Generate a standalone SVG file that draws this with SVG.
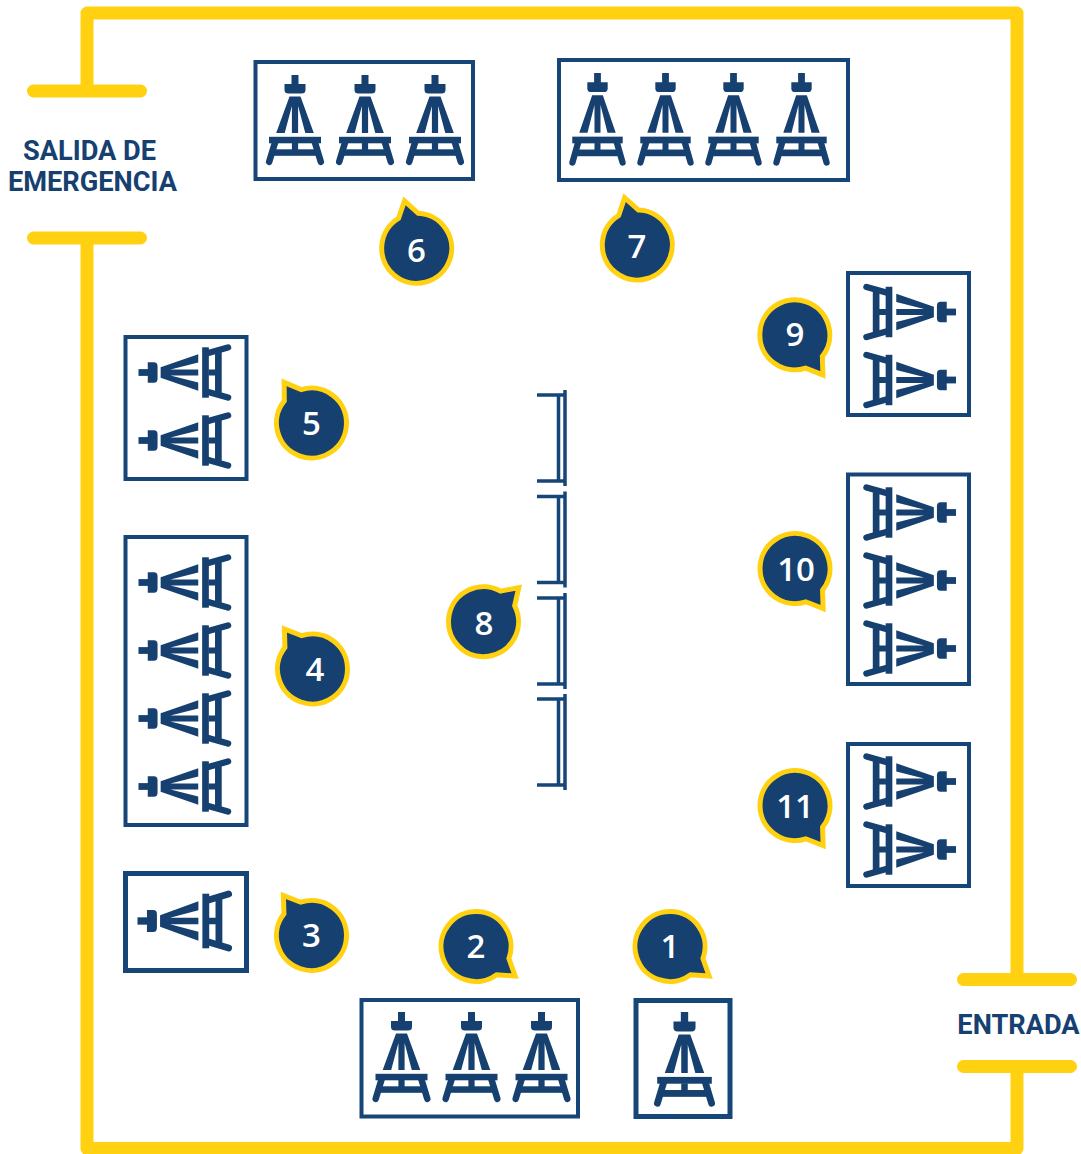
<svg xmlns="http://www.w3.org/2000/svg" width="1081" height="1154" viewBox="0 0 1081 1154">
<style>
.wall{fill:none;stroke:#FFD110;stroke-width:13;stroke-linecap:butt;stroke-linejoin:round}
.bar{fill:none;stroke:#FFD110;stroke-width:13;stroke-linecap:round}
.box{fill:#fff;stroke:#164578;stroke-width:4}
.lbl{font-family:"Roboto","Liberation Sans",sans-serif;font-weight:700;font-size:27.200px;fill:#164070;text-anchor:middle}
.num{font-family:"Open Sans","Liberation Sans",sans-serif;font-weight:600;font-size:33px;fill:#fff;text-anchor:middle}
.part{fill:none;stroke:#164578;stroke-width:3.500}
</style>
<defs>
<g id="easel">
<rect x="-3.500" y="0" width="7" height="10" fill="#164070"/>
<path d="M-10.500 9H10.500V15Q10.500 18.500 6.500 18.500H-6.500Q-10.500 18.500 -10.500 15Z" fill="#164070"/>
<path d="M-5.500 21.500H5.500L18.800 58H10.300L3.100 31V58H-3.100V31L-10.300 58H-18.800Z" fill="#164070"/>
<rect x="-26" y="61.800" width="52" height="6.500" fill="#164070"/>
<rect x="-3.100" y="68" width="6.200" height="7" fill="#164070"/>
<rect x="-21" y="74.300" width="42" height="6.500" fill="#164070"/>
<path d="M-19.500 66L-25.800 86.800M19.500 66L25.800 86.800" fill="none" stroke="#164070" stroke-width="6.500" stroke-linecap="round"/>
</g>
<path id="bubble" d="M-10.200 -33.500L0 -49L10.200 -33.500A35 35 0 1 1 -10.200 -33.500Z" fill="#164070" stroke="#FFD110" stroke-width="5" stroke-miterlimit="10"/>
<g id="partition">
<path class="part" d="M537 395H565M537 481H565M558.500 395V481M565 390V486"/>
</g>
</defs>

<g id="walls">
<path class="wall" d="M87 91V13H1017V979"/>
<path class="wall" d="M87 238V1148.500H1017V1066"/>
<path class="bar" d="M33.500 91H140.500M33.500 238H140.500M963.500 979.500H1070.500M963.500 1066.500H1070.500"/>
</g>
<g id="salida-de-emergencia"><text class="lbl" x="89.500" y="160">SALIDA DE</text><text class="lbl" x="92.500" y="191">EMERGENCIA</text></g>
<g id="entrada"><text class="lbl" x="1018.500" y="1034">ENTRADA</text></g>

<g id="group-6"><rect class="box" x="255.500" y="62" width="217.500" height="117"/>
<use href="#easel" transform="translate(295 75)"/><use href="#easel" transform="translate(365 75)"/><use href="#easel" transform="translate(435 75)"/></g>
<g id="group-7"><rect class="box" x="559" y="60" width="289" height="120"/>
<use href="#easel" transform="translate(597.500 73) scale(.97 1.03)"/><use href="#easel" transform="translate(665.500 73) scale(.97 1.03)"/><use href="#easel" transform="translate(733.500 73) scale(.97 1.03)"/><use href="#easel" transform="translate(801.500 73) scale(.97 1.03)"/></g>
<g id="group-9"><rect class="box" x="848" y="273" width="121" height="142"/>
<use href="#easel" transform="translate(956 312) rotate(90) scale(.97 1.03)"/><use href="#easel" transform="translate(956 380) rotate(90) scale(.97 1.03)"/></g>
<g id="group-10"><rect class="box" x="848" y="474.500" width="121" height="209.500"/>
<use href="#easel" transform="translate(956 512.500) rotate(90) scale(.97 1.03)"/><use href="#easel" transform="translate(956 580.500) rotate(90) scale(.97 1.03)"/><use href="#easel" transform="translate(956 648.500) rotate(90) scale(.97 1.03)"/></g>
<g id="group-11"><rect class="box" x="848" y="744" width="121" height="142"/>
<use href="#easel" transform="translate(956 781.500) rotate(90) scale(.97 1.03)"/><use href="#easel" transform="translate(956 849.500) rotate(90) scale(.97 1.03)"/></g>
<g id="group-5"><rect class="box" x="125.500" y="337" width="121" height="142"/>
<use href="#easel" transform="translate(138.500 372.500) rotate(-90) scale(.97 1.03)"/><use href="#easel" transform="translate(138.500 440.500) rotate(-90) scale(.97 1.03)"/></g>
<g id="group-4"><rect class="box" x="125.500" y="537" width="121" height="288"/>
<use href="#easel" transform="translate(138.500 582.500) rotate(-90) scale(.97 1.03)"/><use href="#easel" transform="translate(138.500 650.500) rotate(-90) scale(.97 1.03)"/><use href="#easel" transform="translate(138.500 718.500) rotate(-90) scale(.97 1.03)"/><use href="#easel" transform="translate(138.500 786.500) rotate(-90) scale(.97 1.03)"/></g>
<g id="group-3"><rect class="box" x="125.500" y="873.500" width="121" height="97" style="stroke-width:5"/>
<use href="#easel" transform="translate(137.500 921) rotate(-90) scale(1.05)"/></g>
<g id="group-2"><rect class="box" x="361.500" y="1000" width="216.500" height="116.500"/>
<use href="#easel" transform="translate(401.500 1012)"/><use href="#easel" transform="translate(471.500 1012)"/><use href="#easel" transform="translate(541.500 1012)"/></g>
<g id="group-1"><rect class="box" x="636" y="1000.500" width="94" height="116" style="stroke-width:5"/>
<use href="#easel" transform="translate(684.500 1012) scale(1.05)"/></g>

<g id="partitions-8">
<use href="#partition"/><use href="#partition" y="101.500"/><use href="#partition" y="203"/><use href="#partition" y="304"/>
</g>

<g id="marker-1"><use href="#bubble" transform="translate(670 946.500) rotate(127)"/><text class="num" x="670" y="958">1</text></g>
<g id="marker-2"><use href="#bubble" transform="translate(476 946.500) rotate(127)"/><text class="num" x="476" y="958">2</text></g>
<g id="marker-3"><use href="#bubble" transform="translate(311.500 935.500) rotate(-35)"/><text class="num" x="311.500" y="947">3</text></g>
<g id="marker-4"><use href="#bubble" transform="translate(312.500 669) rotate(-35)"/><text class="num" x="315" y="681">4</text></g>
<g id="marker-5"><use href="#bubble" transform="translate(311.500 423) rotate(-34)"/><text class="num" x="311.500" y="435">5</text></g>
<g id="marker-6"><use href="#bubble" transform="translate(416.700 248.300) rotate(-14.400)"/><text class="num" x="416.500" y="262">6</text></g>
<g id="marker-7"><use href="#bubble" transform="translate(637.300 245) rotate(-15)"/><text class="num" x="637" y="258">7</text></g>
<g id="marker-8"><use href="#bubble" transform="translate(483.500 621.700) rotate(46)"/><text class="num" x="484" y="635">8</text></g>
<g id="marker-9"><use href="#bubble" transform="translate(794.800 334.800) rotate(145)"/><text class="num" x="795" y="346">9</text></g>
<g id="marker-10"><use href="#bubble" transform="translate(795 568.500) rotate(145)"/><text class="num" x="796" y="581">10</text></g>
<g id="marker-11"><use href="#bubble" transform="translate(795 805.500) rotate(145)"/><text class="num" x="795" y="818">11</text></g>
</svg>
